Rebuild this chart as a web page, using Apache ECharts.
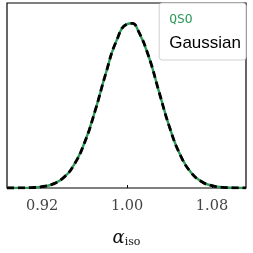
<!DOCTYPE html>
<html><head><meta charset="utf-8">
<script src="https://cdn.jsdelivr.net/npm/echarts@6/dist/echarts.min.js"></script>
<style>html,body{margin:0;padding:0;background:#fff}#c{width:253px;height:253px}</style>
</head><body><div id="c"></div>
<script>
var alphaValues = [0.887, 0.89, 0.90, 0.91, 0.92, 0.93, 0.94, 0.95, 0.96, 0.97, 0.98, 0.99, 1.00, 1.005, 1.01, 1.02, 1.03, 1.04, 1.05, 1.06, 1.07, 1.08, 1.09, 1.10, 1.11, 1.112];
var qsoValues = [0.0001, 0.0002, 0.0007, 0.0025, 0.0082, 0.0240, 0.0620, 0.1400, 0.2760, 0.4700, 0.6950, 0.8930, 0.9950, 1.0000, 0.9620, 0.8060, 0.5870, 0.3700, 0.2020, 0.0960, 0.0395, 0.0142, 0.0045, 0.0012, 0.0003, 0.0002];
var gaussValues = [0.0001, 0.0001, 0.0006, 0.0022, 0.0078, 0.0234, 0.0614, 0.1394, 0.2747, 0.4692, 0.6951, 0.8931, 0.9952, 0.9995, 0.9618, 0.8061, 0.5860, 0.3694, 0.2020, 0.0958, 0.0394, 0.0140, 0.0043, 0.0012, 0.0003, 0.0002];
var tickValues = [0.92, 1.00, 1.08];
var seriesNames = ['QSO', 'Gaussian'];

function pairs(xs, ys){ return xs.map(function(x,i){ return [x, ys[i]]; }); }

var chart = echarts.init(document.getElementById('c'), null, {renderer:'canvas'});
chart.setOption({
  animation: false,
  grid: {left: 7, right: 7, top: 3, bottom: 58, show: true, borderColor: '#000', borderWidth: 1.2, backgroundColor: 'transparent'},
  xAxis: {
    type: 'value', min: 0.887, max: 1.112,
    axisLine: {show: false},
    splitLine: {show: false},
    axisTick: {show: true, inside: true, length: 3, customValues: tickValues, lineStyle: {color: '#000'}},
    axisLabel: {customValues: tickValues, fontFamily: 'DejaVu Serif', fontSize: 14.5, color: '#444', margin: 11,
      formatter: function(v){ return v.toFixed(2); }},
    name: '{a|α}{s|iso}', nameLocation: 'middle', nameGap: 41,
    nameTextStyle: {rich: {
      a: {fontFamily: 'DejaVu Serif', fontStyle: 'italic', fontSize: 18, color: '#111'},
      s: {fontFamily: 'DejaVu Serif', fontSize: 11, color: '#111', verticalAlign: 'bottom', padding: [8,0,0,0]}
    }}
  },
  yAxis: {type: 'value', min: 0, max: 1.123, show: false, splitLine: {show: false}},
  legend: {
    right: 7, top: 3, orient: 'vertical', itemGap: 9, itemWidth: 0, itemHeight: 0,
    padding: [10, 5, 8, 5],
    backgroundColor: '#fff', borderColor: '#d0d0d0', borderWidth: 1, borderRadius: 3,
    data: [
      {name: seriesNames[0], icon: 'none', textStyle: {color: '#2e9b5a', fontFamily: 'DejaVu Sans Mono', fontSize: 13}},
      {name: seriesNames[1], icon: 'none', textStyle: {color: '#000', fontFamily: 'Liberation Sans', fontSize: 17}}
    ]
  },
  series: [
    {name: seriesNames[0], type: 'line', data: pairs(alphaValues, qsoValues), smooth: true, showSymbol: false,
     lineStyle: {color: '#2e9b5a', width: 2.4}, itemStyle: {color: '#2e9b5a'}, z: 2},
    {name: seriesNames[1], type: 'line', data: pairs(alphaValues, gaussValues), smooth: true, showSymbol: false,
     lineStyle: {color: '#000', width: 2.8, type: [7, 4]}, itemStyle: {color: '#000'}, z: 3}
  ]
});
</script></body></html>
